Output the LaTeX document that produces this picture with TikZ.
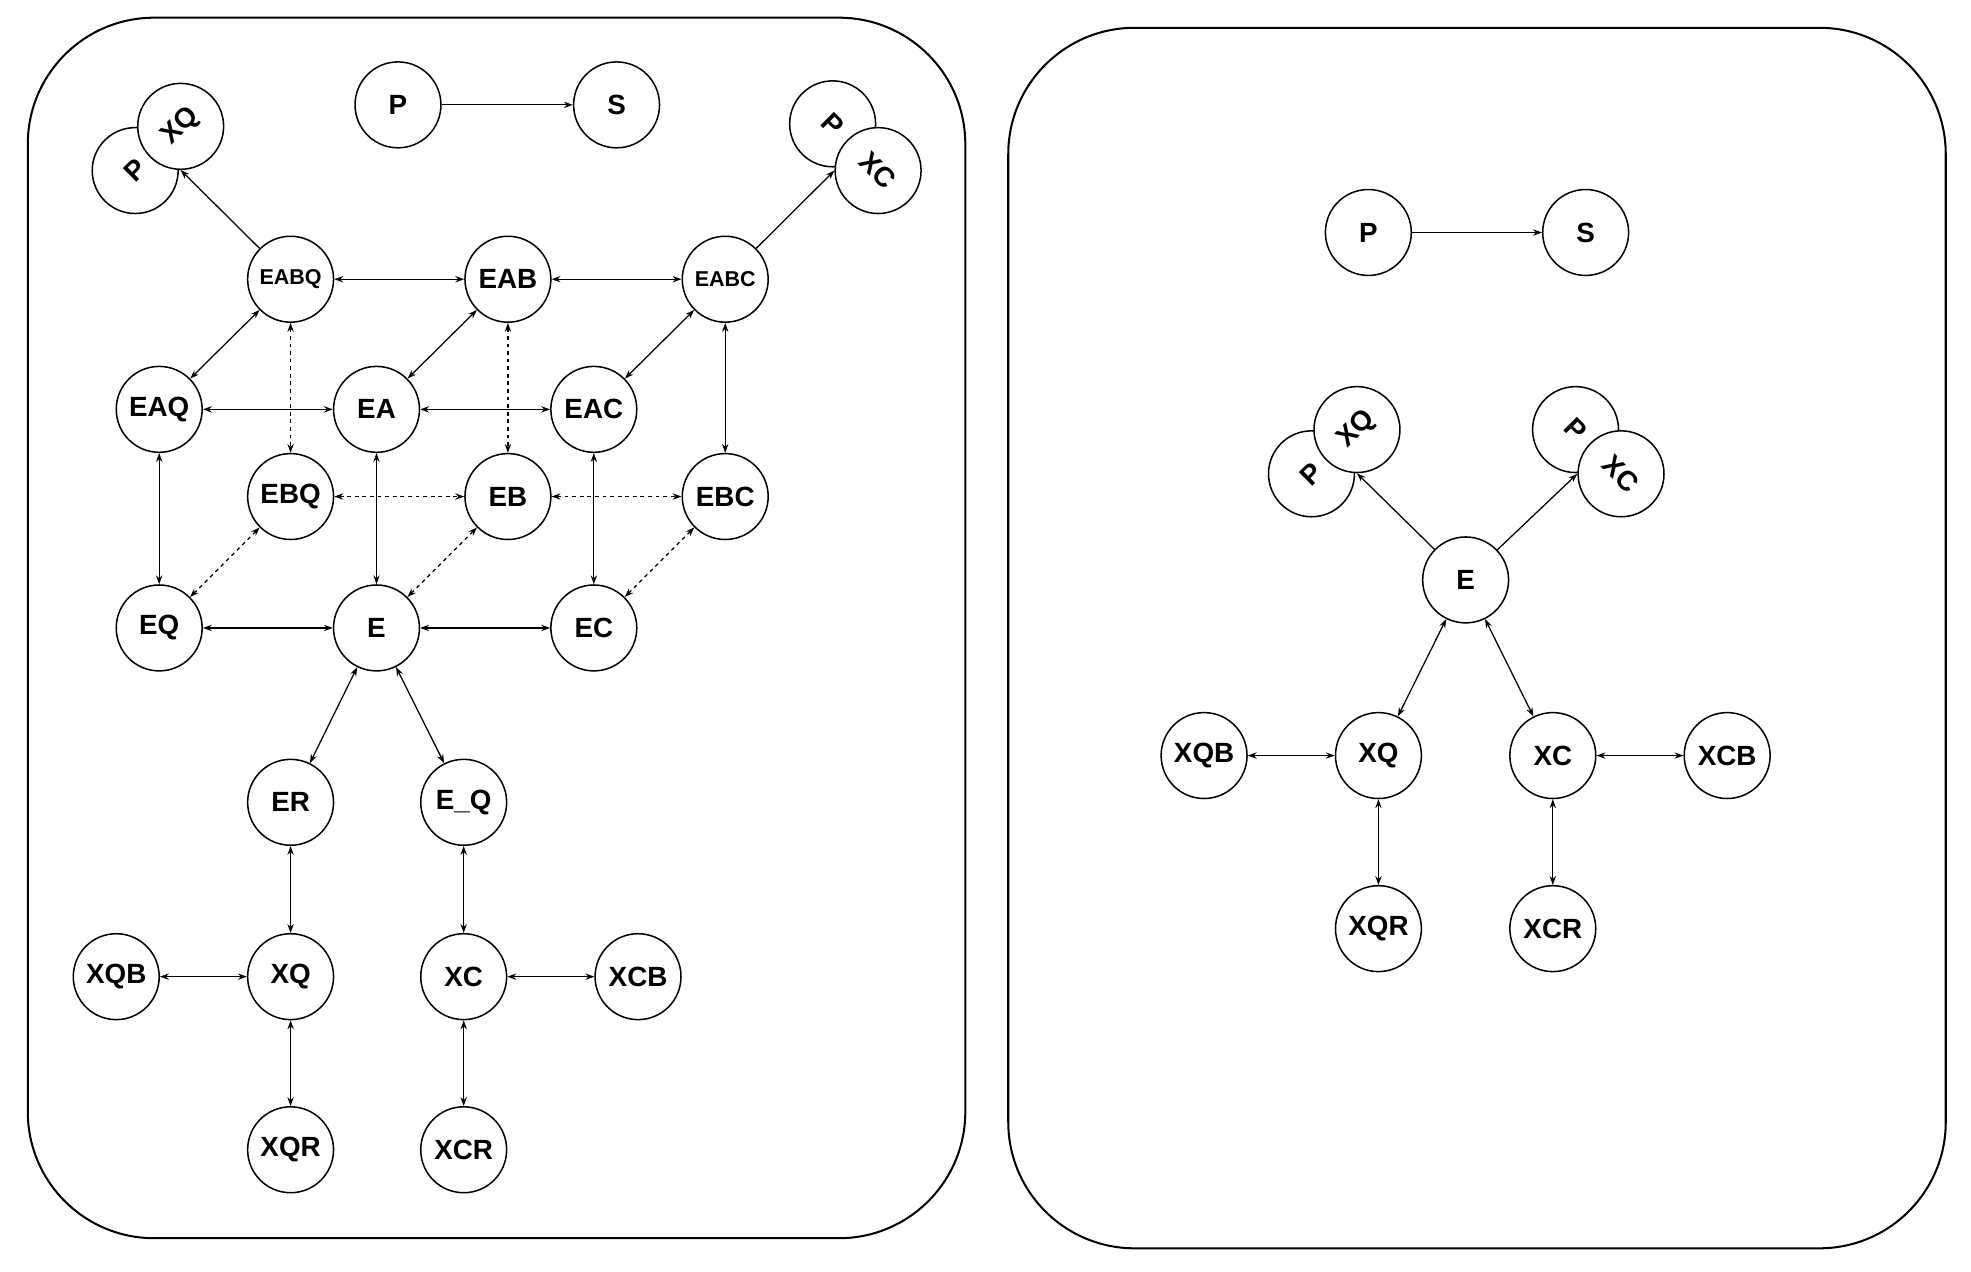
\documentclass[tikz,border=0pt]{standalone}
\usepackage{fontspec}
\setmainfont{Liberation Sans}
\usetikzlibrary{arrows.meta}
\begin{document}
\begin{tikzpicture}[x=1pt,y=-1pt,
  nd/.style={circle,draw,line width=1.2pt,fill=white,minimum size=68pt,inner sep=0pt,font=\fontsize{22}{24}\selectfont\bfseries},
  sm/.style={nd,font=\fontsize{17}{20}\selectfont\bfseries},
  ed/.style={line width=1pt,{Stealth[length=7pt,width=5pt]}-{Stealth[length=7pt,width=5pt]}},
  one/.style={line width=1pt,-{Stealth[length=7pt,width=5pt]}},
  dd/.style={ed,dashed},
  panel/.style={draw,line width=1.6pt,rounded corners=100pt}]
\useasboundingbox (0,0) rectangle (1560,1006);
\draw[panel] (22,14) rectangle (764,980);
\draw[panel] (798,22) rectangle (1540,988);
% left panel
\node[nd] (lP) at (315,83) {P};
\node[nd] (lS) at (488,83) {S};
\node[nd] (lsP) at (107,135) {\rotatebox{45}{P}};
\node[nd] (lsXQ) at (143,100) {\rotatebox{45}{XQ}};
\node[nd] (lsP2) at (659,98) {\rotatebox{-45}{P}};
\node[nd] (lsXC) at (695,135) {\rotatebox{-45}{XC}};
\node[sm] (EABQ) at (230,221) {EABQ};
\node[nd] (EAB) at (402,221) {EAB};
\node[sm] (EABC) at (574,221) {EABC};
\node[nd] (EAQ) at (126,324) {EAQ};
\node[nd] (EA) at (298,324) {EA};
\node[nd] (EAC) at (470,324) {EAC};
\node[nd] (EBQ) at (230,393) {EBQ};
\node[nd] (EB) at (402,393) {EB};
\node[nd] (EBC) at (574,393) {EBC};
\node[nd] (EQ) at (126,497) {EQ};
\node[nd] (E) at (298,497) {E};
\node[nd] (EC) at (470,497) {EC};
\node[nd] (ER) at (230,635) {ER};
\node[nd] (EuQ) at (367,635) {E\_Q};
\node[nd] (lXQB) at (92,773) {XQB};
\node[nd] (lXQ) at (230,773) {XQ};
\node[nd] (lXC) at (367,773) {XC};
\node[nd] (lXCB) at (505,773) {XCB};
\node[nd] (lXQR) at (230,910) {XQR};
\node[nd] (lXCR) at (367,910) {XCR};
\draw[one] (lP) -- (lS);
\draw[one] (EABQ) -- (lsXQ.south);
\draw[one] (EABC) -- (lsXC.west);
\foreach \a/\b in {EABQ/EAB,EAB/EABC,EAQ/EA,EA/EAC,EQ/E,E/EC,EAQ/EABQ,EA/EAB,EAC/EABC,EAQ/EQ,EA/E,EAC/EC,EABC/EBC,E/ER,E/EuQ,ER/lXQ,EuQ/lXC,lXQB/lXQ,lXQ/lXQR,lXC/lXCB,lXC/lXCR}
  \draw[ed] (\a) -- (\b);
\foreach \a/\b in {EABQ/EBQ,EAB/EB,EBQ/EB,EB/EBC,EQ/EBQ,E/EB,EC/EBC}
  \draw[dd] (\a) -- (\b);
% right panel
\node[nd] (rP) at (1083,184) {P};
\node[nd] (rS) at (1255,184) {S};
\node[nd] (rsP) at (1038,375) {\rotatebox{45}{P}};
\node[nd] (rsXQ) at (1074,340) {\rotatebox{45}{XQ}};
\node[nd] (rsP2) at (1247,340) {\rotatebox{-45}{P}};
\node[nd] (rsXC) at (1283,375) {\rotatebox{-45}{XC}};
\node[nd] (rE) at (1160,459) {E};
\node[nd] (rXQB) at (953,598) {XQB};
\node[nd] (rXQ) at (1091,598) {XQ};
\node[nd] (rXC) at (1229,598) {XC};
\node[nd] (rXCB) at (1367,598) {XCB};
\node[nd] (rXQR) at (1091,735) {XQR};
\node[nd] (rXCR) at (1229,735) {XCR};
\draw[one] (rP) -- (rS);
\draw[one] (rE) -- (rsXQ.south);
\draw[one] (rE) -- (rsXC.west);
\foreach \a/\b in {rE/rXQ,rE/rXC,rXQB/rXQ,rXQ/rXQR,rXC/rXCB,rXC/rXCR}
  \draw[ed] (\a) -- (\b);
\end{tikzpicture}
\end{document}
